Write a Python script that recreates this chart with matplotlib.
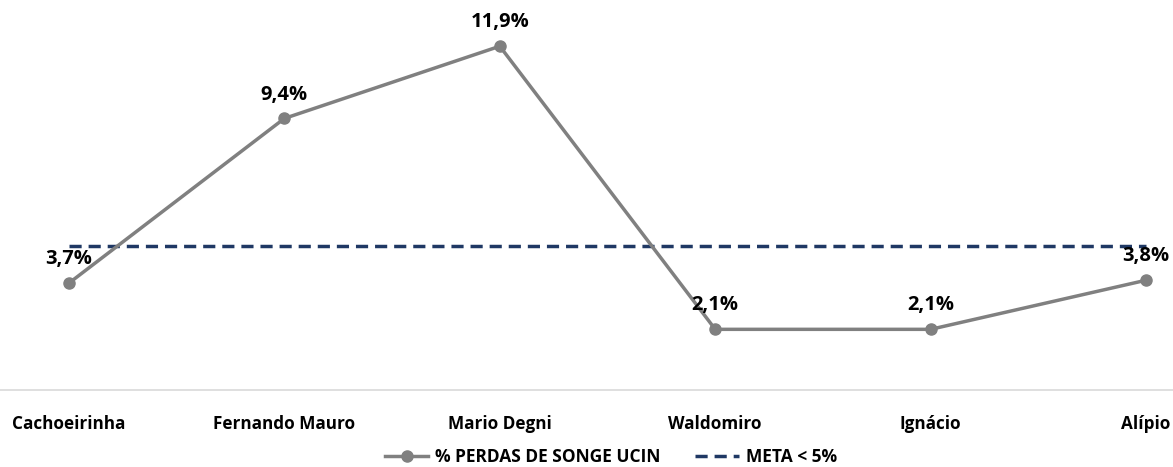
import numpy as np
import matplotlib.pyplot as plt

categorias = ["Cachoeirinha", "Fernando Mauro", "Mario Degni", "Waldomiro", "Ignácio", "Alípio"]
perdas = [3.7, 9.4, 11.9, 2.1, 2.1, 3.8]
meta = [5.0, 5.0, 5.0, 5.0, 5.0, 5.0]

plt.rcParams['font.family'] = ['Open Sans', 'DejaVu Sans']

fig = plt.figure(figsize=(11.73, 4.67), dpi=100)
ax = fig.add_axes([0, 77 / 467, 1, 390 / 467])

x = np.arange(len(categorias))
ax.plot(x, perdas, color='#808080', lw=2.5, marker='o', ms=8,
        label='% PERDAS DE SONGE UCIN', zorder=3)
ax.plot(x, meta, color='#1f3864', lw=2.5, ls=(0, (3.5, 2)),
        label='META < 5%', zorder=2)

for xi, v in zip(x, perdas):
    ax.annotate(f"{v:.1f}%".replace('.', ','), (xi, v), xytext=(0, 10),
                textcoords='offset points', ha='center', va='bottom',
                fontsize=14.5, fontweight='bold', color='black')

ax.set_xlim(-0.32, 5.125)
ax.set_ylim(0, 13.5)
ax.set_yticks([])
ax.set_xticks(x)
ax.set_xticklabels(categorias, fontsize=12.3, fontweight='bold')
ax.tick_params(axis='x', length=0, pad=18)
for s in ['top', 'left', 'right']:
    ax.spines[s].set_visible(False)
ax.spines['bottom'].set_color('#d9d9d9')
ax.spines['bottom'].set_linewidth(1.2)

fig.legend(loc='center', bbox_to_anchor=(611 / 1173, 10 / 467), ncol=2, frameon=False,
           handlelength=2.5, handletextpad=0.4, columnspacing=2,
           prop={'weight': 'bold', 'size': 12.5})

fig.savefig('out.png', dpi=100)
